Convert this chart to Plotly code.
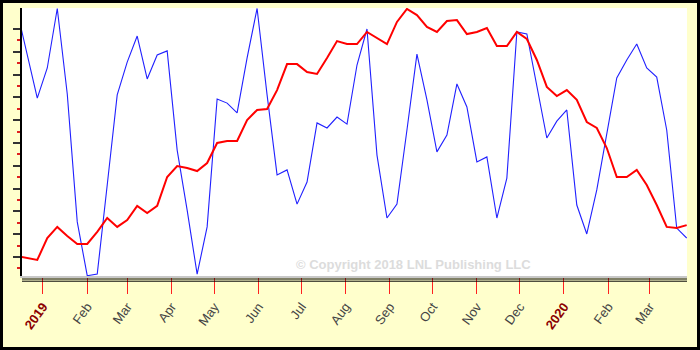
import pandas as pd
import plotly.graph_objects as go

# Weekly series (Fridays), starting 2018-12-14
start_date = "2018-12-14"

blue_values = [
    107.5, 89.0, 69.7, 82.9, 109.0, 71.5, 15.4, -8.2, -7.5, 31.6,
    71.1, 85.5, 96.9, 78.1, 88.6, 90.4, 46.9, 20.6, -7.5, 13.2,
    69.3, 67.5, 63.2, 87.3, 109.0, 71.1, 36.0, 38.2, 23.2, 32.9,
    58.8, 56.6, 61.4, 58.3, 84.2, 100.0, 44.7, 17.1, 23.2, 55.7,
    89.0, 68.9, 46.1, 53.5, 75.9, 65.8, 41.7, 43.9, 17.1, 34.6,
    98.7, 97.8, 75.0, 52.2, 59.6, 64.5, 22.8, 10.1, 29.4, 54.8,
    78.5, 86.4, 93.4, 82.9, 78.9, 55.7, 12.7, 8.3,
]

red_values = [
    0.4, -0.4, -1.3, 8.3, 13.2, 9.2, 5.7, 5.7, 11.0, 17.1,
    13.2, 16.2, 22.4, 19.3, 22.4, 35.1, 39.9, 39.0, 37.7, 41.2,
    50.0, 50.9, 50.9, 60.1, 64.5, 64.9, 73.2, 84.6, 84.6, 81.1,
    80.3, 87.3, 94.7, 93.4, 93.4, 98.7, 96.1, 93.4, 103.1, 108.8,
    106.1, 100.9, 98.7, 103.5, 103.9, 97.8, 98.7, 100.4, 92.5, 92.5,
    98.7, 95.6, 86.4, 74.6, 70.6, 73.2, 68.9, 59.2, 56.6, 47.8,
    35.1, 35.1, 38.2, 31.6, 22.8, 13.2, 12.7, 14.0,
]

dates = pd.date_range(start_date, periods=len(blue_values), freq="7D")

tick_dates = [
    "2019-01-01", "2019-02-01", "2019-03-01", "2019-04-01", "2019-05-01",
    "2019-06-01", "2019-07-01", "2019-08-01", "2019-09-01", "2019-10-01",
    "2019-11-01", "2019-12-01", "2020-01-01", "2020-02-01", "2020-03-01",
]
tick_labels = [
    "2019", "Feb", "Mar", "Apr", "May", "Jun", "Jul", "Aug", "Sep", "Oct",
    "Nov", "Dec", "2020", "Feb", "Mar",
]
year_labels = {"2019", "2020"}
tick_text = [
    f"<b><span style='color:#8B0000'>{t}</span></b>" if t in year_labels else t
    for t in tick_labels
]

major_y = [0, 10, 20, 30, 40, 50, 60, 70, 80, 90, 100]
minor_y = [-5, 5, 15, 25, 35, 45, 55, 65, 75, 85, 95]

W, H = 700, 350
ML, MR, MT, MB = 22, 13, 8, 74
pw, ph = W - ML - MR, H - MT - MB


def px_x(px):
    return (px - ML) / pw


def px_y(py):
    return (H - MB - py) / ph


fig = go.Figure()
fig.add_trace(go.Scatter(
    x=dates, y=blue_values, mode="lines",
    line=dict(color="#2020FF", width=1.1), showlegend=False,
))
fig.add_trace(go.Scatter(
    x=dates, y=red_values, mode="lines",
    line=dict(color="#FF0000", width=2), showlegend=False,
))

shapes = [
    # double rule under the plot area
    dict(type="line", xref="paper", yref="paper", x0=0, x1=1,
         y0=px_y(279), y1=px_y(279), line=dict(color="black", width=1)),
    dict(type="line", xref="paper", yref="paper", x0=0, x1=1,
         y0=px_y(281.2), y1=px_y(281.2), line=dict(color="black", width=1)),
    # outer frame
    dict(type="rect", xref="paper", yref="paper",
         x0=px_x(1.5), x1=px_x(698.5), y0=px_y(348.5), y1=px_y(1.5),
         line=dict(color="black", width=3)),
]

fig.update_layout(
    width=W, height=H,
    margin=dict(l=ML, r=MR, t=MT, b=MB, pad=0),
    paper_bgcolor="#FFFFCC",
    plot_bgcolor="white",
    font=dict(family="Liberation Sans, Arial, sans-serif", size=13, color="#444444"),
    shapes=shapes,
    annotations=[dict(
        text="© Copyright 2018 LNL Publishing LLC",
        xref="paper", yref="paper", x=px_x(414), y=px_y(264),
        xanchor="center", yanchor="middle", showarrow=False,
        font=dict(family="Liberation Sans, Arial, sans-serif", size=13,
                  color="#DCDCDC", weight="bold"),
    )],
    xaxis=dict(
        range=["2018-12-17 07:00", "2020-03-27 05:00"],
        tickmode="array", tickvals=tick_dates, ticktext=tick_text,
        tickangle=-54, ticks="outside", ticklen=16, tickwidth=1.2,
        tickcolor="#FF2020", showgrid=False, zeroline=False,
        showline=True, linecolor="#C8C8C8", linewidth=2,
        tickfont=dict(size=13, color="#444444"),
    ),
    yaxis=dict(
        range=[-8.33, 109.21],
        tickmode="array", tickvals=major_y, showticklabels=False,
        ticks="outside", ticklen=7, tickwidth=1.5, tickcolor="#333333",
        minor=dict(tickmode="array", tickvals=minor_y, ticks="outside",
                   ticklen=3, tickwidth=1.5, tickcolor="#E02020", showgrid=False),
        showgrid=False, zeroline=False,
        showline=True, linecolor="black", linewidth=1.5,
    ),
)

fig.write_html("out.html")
